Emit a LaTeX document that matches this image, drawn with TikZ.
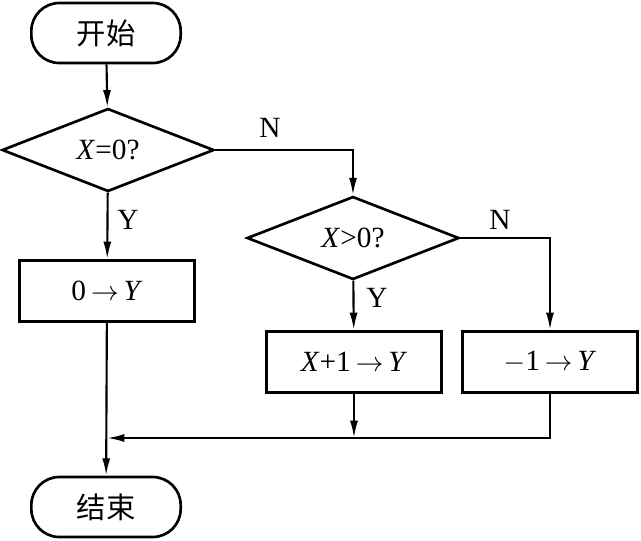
\documentclass[tikz,border=0pt]{standalone}
\usepackage{fontspec}
\setmainfont{Liberation Serif}
\newfontfamily\cjk{Noto Sans CJK SC}
\usepackage{tikz}
\usetikzlibrary{shapes.geometric,arrows.meta,positioning}

\begin{document}
\begin{tikzpicture}[
    x=0.75pt, y=-0.75pt,
    every node/.style={font=\fontsize{22}{26}\selectfont},
    term/.style={rectangle, draw, line width=2pt, rounded corners=21pt, minimum width=112pt, minimum height=45pt},
    proc/.style={rectangle, draw, line width=2pt, minimum width=131pt, minimum height=46pt},
    test/.style={diamond, draw, line width=2pt, inner sep=0pt, minimum width=159pt, minimum height=58pt},
    arrow/.style={-{Latex[length=13pt,width=6pt]}, line width=1.6pt}
]
    \useasboundingbox (0,0) rectangle (641,540);

    % Start and stop
    \node[term] (start) at (106,33) {\cjk 开始};
    \node[term] (stop) at (106,507) {\cjk 结束};

    % Tests
    \node[test] (iszero) at (108,150) {\textit{X}=0?};
    \node[test] (ispos) at (353,238) {\textit{X}>0?};

    % Assignments
    \node[proc] (zero) at (107,291) {0\,$\rightarrow$\,\textit{Y}};
    \node[proc] (plus) at (354,362) {\textit{X}+1\,$\rightarrow$\,\textit{Y}};
    \node[proc] (minus) at (550,362) {$-$1\,$\rightarrow$\,\textit{Y}};

    % Merge points
    \coordinate (mleft) at (107,438);
    \coordinate (mmid) at (354,438);

    % Labels
    \node (y1) at (128,220) {Y};
    \node (n1) at (270,128) {N};
    \node (y2) at (377,298) {Y};
    \node (n2) at (500,220) {N};

    % Arrows
    \draw[arrow] (start) -- (iszero);
    \draw[arrow] (iszero) -- (zero);
    \draw[arrow] (iszero.east) -| (ispos.north);
    \draw[arrow] (ispos) -- (plus);
    \draw[arrow] (ispos.east) -| (minus.north);
    \draw[arrow] (plus) -- (mmid);
    \draw[arrow] (minus.south) |- (mleft);
    \draw[arrow] (zero) -- (stop);
\end{tikzpicture}
\end{document}
